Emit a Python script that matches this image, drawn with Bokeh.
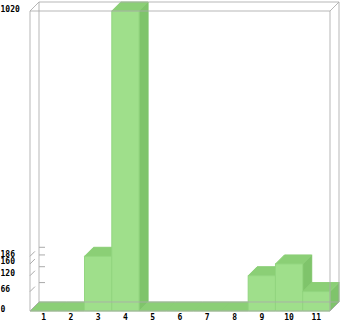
from bokeh.plotting import figure
from bokeh.models import Range1d
from bokeh.core.properties import value
from bokeh.embed import file_html
from bokeh.resources import INLINE

# chart data
categories = ["1", "2", "3", "4", "5", "6", "7", "8", "9", "10", "11"]
counts = [0, 0, 186, 1020, 0, 0, 0, 0, 120, 160, 66]
y_ticks = [0, 66, 120, 160, 186, 1020]
y_max = 1020

W, H = 340, 321
plot_left_px, plot_bottom_px = 29.5, 310.5   # front frame corner on screen
plot_w_px, plot_h_px = 300.0, 300.0
depth_px = 9.0

n = len(categories)
px_per_cat = plot_w_px / n
units_per_px = y_max / plot_h_px

x0 = 0.5 - plot_left_px / px_per_cat
x1 = x0 + W / px_per_cat
y1 = plot_bottom_px * units_per_px
y0 = y1 - H * units_per_px

dx = depth_px / px_per_cat
dy = depth_px * units_per_px

p = figure(width=W, height=H, output_backend="svg", toolbar_location=None,
           x_range=Range1d(x0, x1), y_range=Range1d(y0, y1),
           min_border=0, outline_line_color=None)
p.axis.visible = False
p.grid.visible = False
p.background_fill_color = "white"

FRONT, TOP, SIDE = "#9fdf8b", "#8bcf76", "#7fc46b"
EDGE = "#92d57f"

# extruded bars: side, top, then front, drawn left to right
xs, ys, fills, lines = [], [], [], []
for i, v in enumerate(counts):
    xl, xr = i + 0.5, i + 1.5
    xs.append([xr, xr + dx, xr + dx, xr]); ys.append([0, dy, v + dy, v])
    fills.append(SIDE); lines.append(SIDE)
    xs.append([xl, xr, xr + dx, xl + dx]); ys.append([v, v, v + dy, v + dy])
    fills.append(TOP); lines.append(TOP)
    if v > 0:
        xs.append([xl, xr, xr, xl]); ys.append([0, 0, v, v])
        fills.append(FRONT); lines.append(EDGE)
p.patches(xs, ys, fill_color=fills, line_color=lines, line_width=1)

# box frame: front rectangle, back rectangle and corner connectors
L, R = 0.5, n + 0.5
fx = [[L, R], [L, R], [L, L], [R, R],
      [L + dx, R + dx], [L + dx, R + dx], [L + dx, L + dx], [R + dx, R + dx],
      [L, L + dx], [R, R + dx], [L, L + dx], [R, R + dx]]
fy = [[0, 0], [y_max, y_max], [0, y_max], [0, y_max],
      [dy, dy], [y_max + dy, y_max + dy], [dy, y_max + dy], [dy, y_max + dy],
      [0, dy], [0, dy], [y_max, y_max + dy], [y_max, y_max + dy]]
p.multi_line(fx, fy, line_color="#aaaaaa", line_width=1, line_alpha=0.85)

# value ticks: slanted on the side wall, short horizontal on the back wall
tx, ty = [], []
for t in y_ticks[1:-1]:
    tx.append([L, L + dx * 0.55]); ty.append([t, t + dy * 0.55])
    tx.append([L + dx, L + dx + 0.22]); ty.append([t + dy, t + dy])
p.multi_line(tx, ty, line_color="#aaaaaa", line_width=1)

font = value("DejaVu Sans Mono")
p.text(x=[x0] * len(y_ticks), y=y_ticks, text=[str(t) for t in y_ticks],
       text_font=font, text_font_size="8px", text_font_style="bold",
       text_align="left", text_baseline="middle", x_offset=0, y_offset=-3,
       text_color="black")
p.text(x=list(range(1, n + 1)), y=[0] * n, text=categories,
       text_font=font, text_font_size="8px", text_font_style="bold",
       text_align="center", text_baseline="middle", y_offset=5,
       text_color="black")

open("out.html", "w").write(file_html(p, INLINE))
